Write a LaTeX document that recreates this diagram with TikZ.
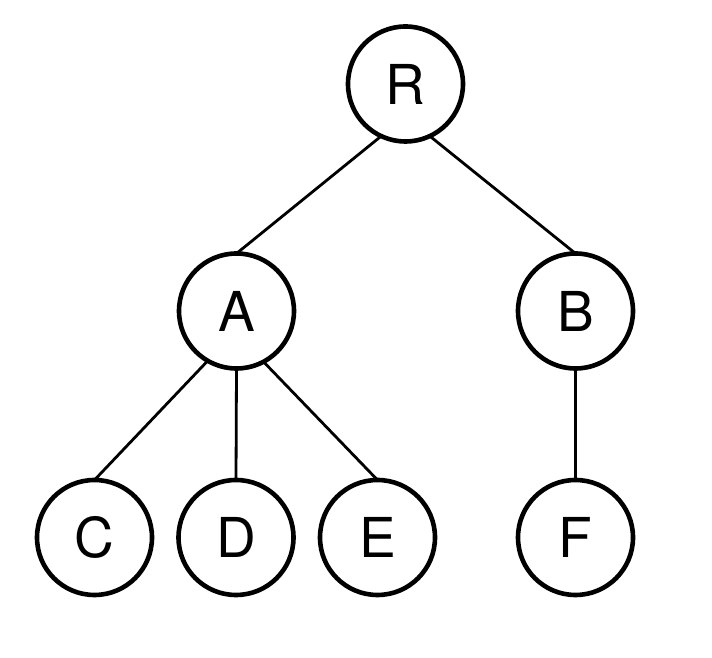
\documentclass[tikz,border=0pt]{standalone}
\usepackage{fontspec}
\setmainfont{TeX Gyre Heros}
\begin{document}
\begin{tikzpicture}[x=1pt,y=1pt,
  tnode/.style={circle,draw,line width=4.6pt,minimum size=115pt,inner sep=0pt,outer sep=0pt,font=\fontsize{55}{60}\selectfont},
  edge/.style={line width=2.8pt}]
\useasboundingbox (0,0) rectangle (712,658);
\node[tnode] (R) at (405.5,574) {R};
\node[tnode] (A) at (236.5,347) {A};
\node[tnode] (B) at (575.5,347) {B};
\node[tnode] (C) at (94.5,120.5) {C};
\node[tnode] (D) at (236,120.5) {D};
\node[tnode] (E) at (377.5,120.5) {E};
\node[tnode] (F) at (575.5,120.5) {F};
\draw[edge] (R.245) -- (A.north);
\draw[edge] (R.295) -- (B.north);
\draw[edge] (A.240) -- (C.north);
\draw[edge] (A.south) -- (D.north);
\draw[edge] (A.298) -- (E.north);
\draw[edge] (B.south) -- (F.north);
\end{tikzpicture}
\end{document}
